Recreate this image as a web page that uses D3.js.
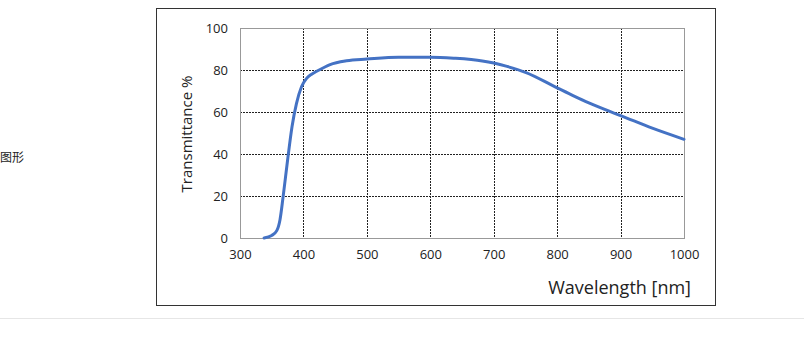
<!DOCTYPE html>
<html>
<head>
<meta charset="utf-8">
<script src="https://cdn.jsdelivr.net/npm/d3@7"></script>
<style>
  body { margin: 0; background: #fff; }
  text { font-family: "Open Sans", "Noto Sans", sans-serif; fill: #222; }
</style>
</head>
<body>
<div id="chart"></div>
<script>
// transmittance curve
var wavelength = [338, 350, 358, 363, 368, 375, 382, 389, 397, 405, 413, 421, 442, 468, 500, 550, 600, 637, 682, 700, 721, 750, 800, 825, 850, 875, 900, 950, 1000];
var transmit   = [0,   1.2, 3.5, 8.6, 19.7, 37, 53,  64,  72,  76,  78,  79.4, 82.6, 84.4, 85.2, 86.1, 86.1, 85.6, 84.3, 83.3, 81.7, 78.9, 71.5, 67.8, 64.3, 61.2, 58.3, 52.3, 47];
var xTicks = [300, 400, 500, 600, 700, 800, 900, 1000];
var yTicks = [0, 20, 40, 60, 80, 100];

var W = 804, H = 341;
var plot = { left: 240, right: 684, top: 28, bottom: 238 };

var svg = d3.select("#chart").append("svg")
    .attr("width", W)
    .attr("height", H);

// side caption and page rule
svg.append("text")
    .attr("x", 0).attr("y", 162)
    .style("font-family", "'Noto Sans CJK SC', sans-serif")
    .style("font-size", "12px")
    .text("图形");

svg.append("line")
    .attr("x1", 0).attr("x2", W)
    .attr("y1", 318.5).attr("y2", 318.5)
    .attr("stroke", "#e6e6e6");

// outer frame
svg.append("rect")
    .attr("x", 156.5).attr("y", 8.5)
    .attr("width", 559).attr("height", 297)
    .attr("fill", "none")
    .attr("stroke", "#333")
    .attr("stroke-width", 1);

var x = d3.scaleLinear().domain([300, 1000]).range([plot.left, plot.right]);
var y = d3.scaleLinear().domain([0, 100]).range([plot.bottom, plot.top]);

// grid
svg.append("g").selectAll("line")
    .data(xTicks.slice(1, -1))
    .enter().append("line")
    .attr("x1", function(d) { return Math.round(x(d)) + 0.5; })
    .attr("x2", function(d) { return Math.round(x(d)) + 0.5; })
    .attr("y1", plot.top).attr("y2", plot.bottom)
    .attr("stroke", "#222")
    .attr("stroke-dasharray", "2,1");

svg.append("g").selectAll("line")
    .data(yTicks.slice(1, -1))
    .enter().append("line")
    .attr("x1", plot.left).attr("x2", plot.right)
    .attr("y1", function(d) { return Math.round(y(d)) + 0.5; })
    .attr("y2", function(d) { return Math.round(y(d)) + 0.5; })
    .attr("stroke", "#222")
    .attr("stroke-dasharray", "2,1");

svg.append("rect")
    .attr("x", plot.left + 0.5).attr("y", plot.top + 0.5)
    .attr("width", plot.right - plot.left).attr("height", plot.bottom - plot.top)
    .attr("fill", "none")
    .attr("stroke", "#999");

// axes labels
var xAxis = d3.axisBottom(x).tickValues(xTicks).tickFormat(d3.format("d")).tickSize(0).tickPadding(12);
var gx = svg.append("g")
    .attr("transform", "translate(0," + plot.bottom + ")")
    .call(xAxis);
gx.select(".domain").remove();
gx.selectAll("text").style("font-size", "13px").style("fill", "#222");

var yAxis = d3.axisLeft(y).tickValues(yTicks).tickSize(0).tickPadding(12);
var gy = svg.append("g")
    .attr("transform", "translate(" + plot.left + ",0)")
    .call(yAxis);
gy.select(".domain").remove();
gy.selectAll("text").style("font-size", "13px").style("fill", "#222");

svg.append("text")
    .attr("transform", "translate(192,134) rotate(-90)")
    .attr("text-anchor", "middle")
    .style("font-size", "15px")
    .text("Transmittance %");

svg.append("text")
    .attr("x", 691).attr("y", 294)
    .attr("text-anchor", "end")
    .style("font-size", "18px")
    .text("Wavelength [nm]");

// the curve
var pts = wavelength.map(function(d, i) { return [d, transmit[i]]; });
var line = d3.line()
    .x(function(d) { return x(d[0]); })
    .y(function(d) { return y(d[1]); })
    .curve(d3.curveMonotoneX);

svg.append("path")
    .datum(pts)
    .attr("d", line)
    .attr("fill", "none")
    .attr("stroke", "#4472c4")
    .attr("stroke-width", 3)
    .attr("stroke-linecap", "round");
</script>
</body>
</html>
